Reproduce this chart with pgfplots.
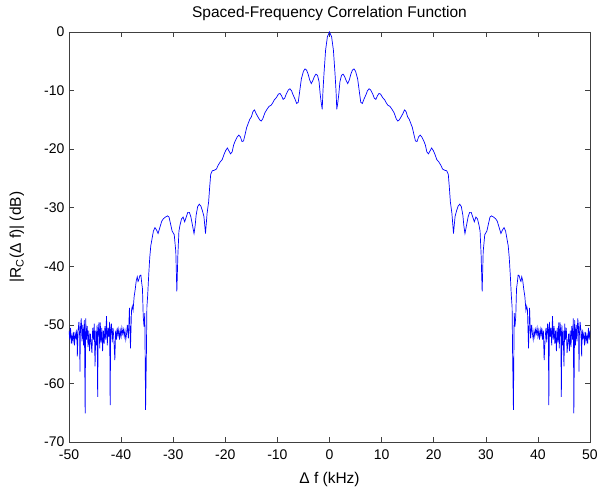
\documentclass[border=0pt]{standalone}
\usepackage{fontspec}
\setmainfont{Liberation Sans}
\usepackage{pgfplots}
\usepackage{pgfplotstable}
\pgfplotsset{compat=1.18}

% |R_C(df)| in dB (left half, centre, right half)
\pgfplotstableread{
x y
-50.00 -51.0
-49.85 -52.5
-49.70 -50.5
-49.55 -53.2
-49.40 -51.8
-49.25 -52.8
-49.10 -51.2
-48.95 -53.5
-48.80 -51.5
-48.65 -52.2
-48.50 -50.8
-48.40 -55.4
-48.25 -51.0
-48.10 -49.5
-47.95 -52.0
-47.90 -58.0
-47.80 -50.5
-47.65 -48.9
-47.50 -52.8
-47.35 -50.0
-47.20 -53.5
-47.05 -49.2
-46.90 -65.1
-46.80 -48.9
-46.65 -52.5
-46.50 -50.2
-46.35 -53.8
-46.20 -51.0
-46.05 -54.5
-45.90 -51.5
-45.75 -53.0
-45.60 -54.8
-45.45 -50.5
-45.30 -52.5
-45.15 -49.8
-45.00 -57.1
-44.85 -51.0
-44.70 -53.5
-44.60 -50.0
-44.50 -62.3
-44.40 -51.5
-44.25 -49.6
-44.10 -54.0
-44.00 -49.6
-43.85 -53.0
-43.70 -50.5
-43.55 -54.5
-43.40 -51.0
-43.25 -53.2
-43.10 -50.2
-42.95 -52.5
-42.80 -48.5
-42.65 -53.5
-42.50 -50.5
-42.35 -52.0
-42.20 -49.5
-42.10 -63.7
-42.00 -51.0
-41.85 -49.8
-41.70 -53.0
-41.55 -50.5
-41.40 -52.2
-41.20 -56.0
-41.05 -51.0
-40.90 -52.5
-40.75 -50.5
-40.60 -51.8
-40.45 -50.8
-40.30 -52.5
-40.15 -51.0
-40.00 -52.0
-39.85 -50.5
-39.70 -51.5
-39.55 -50.8
-39.40 -52.0
-39.25 -51.0
-39.10 -52.5
-38.95 -51.5
-38.80 -50.0
-38.60 -52.3
-38.40 -47.1
-38.20 -54.0
-38.00 -47.5
-37.85 -46.8
-37.70 -47.5
-37.50 -45.2
-37.30 -44.0
-37.10 -42.5
-36.90 -41.8
-36.75 -42.6
-36.60 -42.3
-36.40 -41.6
-36.20 -41.5
-36.05 -42.8
-35.90 -43.8
-35.75 -48.6
-35.60 -50.3
-35.45 -48.0
-35.30 -64.5
-35.15 -55.4
-35.05 -47.0
-34.90 -45.0
-34.70 -41.5
-34.50 -38.5
-34.30 -36.5
-34.10 -35.5
-33.80 -34.0
-33.50 -33.4
-33.20 -33.8
-32.90 -34.4
-32.50 -33.2
-32.20 -32.3
-31.90 -31.9
-31.50 -31.6
-31.10 -31.4
-30.80 -31.6
-30.50 -32.8
-30.20 -34.0
-29.80 -34.6
-29.50 -37.5
-29.30 -44.3
-29.10 -38.0
-28.90 -34.0
-28.70 -33.0
-28.40 -31.9
-28.10 -31.6
-27.80 -32.4
-27.50 -31.6
-27.20 -30.8
-26.90 -30.8
-26.60 -31.6
-26.30 -33.0
-26.00 -34.4
-25.80 -33.2
-25.60 -31.3
-25.30 -29.8
-25.00 -29.4
-24.70 -29.7
-24.40 -30.5
-24.10 -31.5
-23.80 -34.4
-23.50 -31.0
-23.20 -29.0
-23.00 -26.5
-22.80 -24.3
-22.50 -23.7
-22.10 -23.6
-21.70 -23.4
-21.40 -22.8
-21.00 -22.2
-20.60 -21.8
-20.20 -20.8
-19.90 -20.2
-19.60 -19.8
-19.30 -20.3
-19.00 -20.8
-18.70 -20.5
-18.40 -19.3
-18.10 -18.6
-17.70 -17.9
-17.40 -17.6
-17.10 -17.9
-16.80 -18.7
-16.50 -18.6
-16.20 -17.5
-15.90 -16.3
-15.60 -15.6
-15.30 -14.9
-15.00 -14.5
-14.70 -13.6
-14.40 -13.3
-14.10 -13.9
-13.80 -14.4
-13.40 -15.0
-13.10 -15.2
-12.80 -14.8
-12.40 -13.8
-12.00 -13.2
-11.60 -12.7
-11.20 -12.5
-10.90 -12.1
-10.60 -11.6
-10.20 -11.2
-9.80 -10.6
-9.50 -10.5
-9.20 -10.9
-8.90 -11.5
-8.60 -11.3
-8.30 -10.6
-7.90 -9.9
-7.60 -9.7
-7.30 -10.0
-7.00 -10.7
-6.60 -11.5
-6.30 -12.2
-6.00 -12.0
-5.70 -10.0
-5.40 -8.0
-5.00 -6.7
-4.70 -6.3
-4.40 -6.5
-4.10 -7.2
-3.80 -8.2
-3.50 -8.8
-3.20 -8.3
-2.90 -7.6
-2.60 -7.2
-2.30 -7.4
-2.00 -8.5
-1.80 -10.5
-1.60 -12.0
-1.40 -13.2
-1.25 -10.0
-1.05 -7.0
-0.75 -3.1
-0.40 -0.8
0.00 0.0
0.40 -0.8
0.75 -3.1
1.05 -7.0
1.25 -10.0
1.40 -13.2
1.60 -12.0
1.80 -10.5
2.00 -8.5
2.30 -7.4
2.60 -7.2
2.90 -7.6
3.20 -8.3
3.50 -8.8
3.80 -8.2
4.10 -7.2
4.40 -6.5
4.70 -6.3
5.00 -6.7
5.40 -8.0
5.70 -10.0
6.00 -12.0
6.30 -12.2
6.60 -11.5
7.00 -10.7
7.30 -10.0
7.60 -9.7
7.90 -9.9
8.30 -10.6
8.60 -11.3
8.90 -11.5
9.20 -10.9
9.50 -10.5
9.80 -10.6
10.20 -11.2
10.60 -11.6
10.90 -12.1
11.20 -12.5
11.60 -12.7
12.00 -13.2
12.40 -13.8
12.80 -14.8
13.10 -15.2
13.40 -15.0
13.80 -14.4
14.10 -13.9
14.40 -13.3
14.70 -13.6
15.00 -14.5
15.30 -14.9
15.60 -15.6
15.90 -16.3
16.20 -17.5
16.50 -18.6
16.80 -18.7
17.10 -17.9
17.40 -17.6
17.70 -17.9
18.10 -18.6
18.40 -19.3
18.70 -20.5
19.00 -20.8
19.30 -20.3
19.60 -19.8
19.90 -20.2
20.20 -20.8
20.60 -21.8
21.00 -22.2
21.40 -22.8
21.70 -23.4
22.10 -23.6
22.50 -23.7
22.80 -24.3
23.00 -26.5
23.20 -29.0
23.50 -31.0
23.80 -34.4
24.10 -31.5
24.40 -30.5
24.70 -29.7
25.00 -29.4
25.30 -29.8
25.60 -31.3
25.80 -33.2
26.00 -34.4
26.30 -33.0
26.60 -31.6
26.90 -30.8
27.20 -30.8
27.50 -31.6
27.80 -32.4
28.10 -31.6
28.40 -31.9
28.70 -33.0
28.90 -34.0
29.10 -38.0
29.30 -44.3
29.50 -37.5
29.80 -34.6
30.20 -34.0
30.50 -32.8
30.80 -31.6
31.10 -31.4
31.50 -31.6
31.90 -31.9
32.20 -32.3
32.50 -33.2
32.90 -34.4
33.20 -33.8
33.50 -33.4
33.80 -34.0
34.10 -35.5
34.30 -36.5
34.50 -38.5
34.70 -41.5
34.90 -45.0
35.05 -47.0
35.15 -55.4
35.30 -64.5
35.45 -48.0
35.60 -50.3
35.75 -48.6
35.90 -43.8
36.05 -42.8
36.20 -41.5
36.40 -41.6
36.60 -42.3
36.75 -42.6
36.90 -41.8
37.10 -42.5
37.30 -44.0
37.50 -45.2
37.70 -47.5
37.85 -46.8
38.00 -47.5
38.20 -54.0
38.40 -47.1
38.60 -52.3
38.80 -50.0
38.95 -51.5
39.10 -52.5
39.25 -51.0
39.40 -52.0
39.55 -50.8
39.70 -51.5
39.85 -50.5
40.00 -52.0
40.15 -51.0
40.30 -52.5
40.45 -50.8
40.60 -51.8
40.75 -50.5
40.90 -52.5
41.05 -51.0
41.20 -56.0
41.40 -52.2
41.55 -50.5
41.70 -53.0
41.85 -49.8
42.00 -51.0
42.10 -63.7
42.20 -49.5
42.35 -52.0
42.50 -50.5
42.65 -53.5
42.80 -48.5
42.95 -52.5
43.10 -50.2
43.25 -53.2
43.40 -51.0
43.55 -54.5
43.70 -50.5
43.85 -53.0
44.00 -49.6
44.10 -54.0
44.25 -49.6
44.40 -51.5
44.50 -62.3
44.60 -50.0
44.70 -53.5
44.85 -51.0
45.00 -57.1
45.15 -49.8
45.30 -52.5
45.45 -50.5
45.60 -54.8
45.75 -53.0
45.90 -51.5
46.05 -54.5
46.20 -51.0
46.35 -53.8
46.50 -50.2
46.65 -52.5
46.80 -48.9
46.90 -65.1
47.05 -49.2
47.20 -53.5
47.35 -50.0
47.50 -52.8
47.65 -48.9
47.80 -50.5
47.90 -58.0
47.95 -52.0
48.10 -49.5
48.25 -51.0
48.40 -55.4
48.50 -50.8
48.65 -52.2
48.80 -51.5
48.95 -53.5
49.10 -51.2
49.25 -52.8
49.40 -51.8
49.55 -53.2
49.70 -50.5
49.85 -52.5
50.00 -51.0
}\corr

\begin{document}
\begin{tikzpicture}
  \useasboundingbox (-69pt,-47pt) rectangle (528pt,442pt);
  \begin{axis}[
      scale only axis,
      width=521pt, height=410pt,
      xmin=-50, xmax=50, ymin=-70, ymax=0,
      xtick={-50,-40,...,50},
      ytick={-70,-60,...,0},
      major tick length=5pt,
      axis line style={black!75},
      tick style={black!75, line width=0.6pt},
      /pgf/number format/assume math mode=true,
      tick label style={font=\fontsize{14}{16}\selectfont},
      xticklabel style={yshift=-4pt},
      yticklabel style={xshift=-1pt},
      label style={font=\fontsize{15.5}{18}\selectfont},
      title style={font=\fontsize{15.5}{18}\selectfont,
                   at={(0.5,1)}, anchor=base, yshift=8.5pt},
      xlabel style={at={(axis description cs:0.5,0)}, anchor=base, yshift=-41.5pt},
      ylabel style={at={(axis description cs:-0.0998,0.5)}, anchor=center},
      title={Spaced-Frequency Correlation Function},
      xlabel={Δ f (kHz)},
      ylabel={|R\textsubscript{C}(Δ f)| (dB)},
    ]
    \addplot[blue, line width=0.7pt] table[x=x, y=y] {\corr};
  \end{axis}
\end{tikzpicture}
\end{document}
